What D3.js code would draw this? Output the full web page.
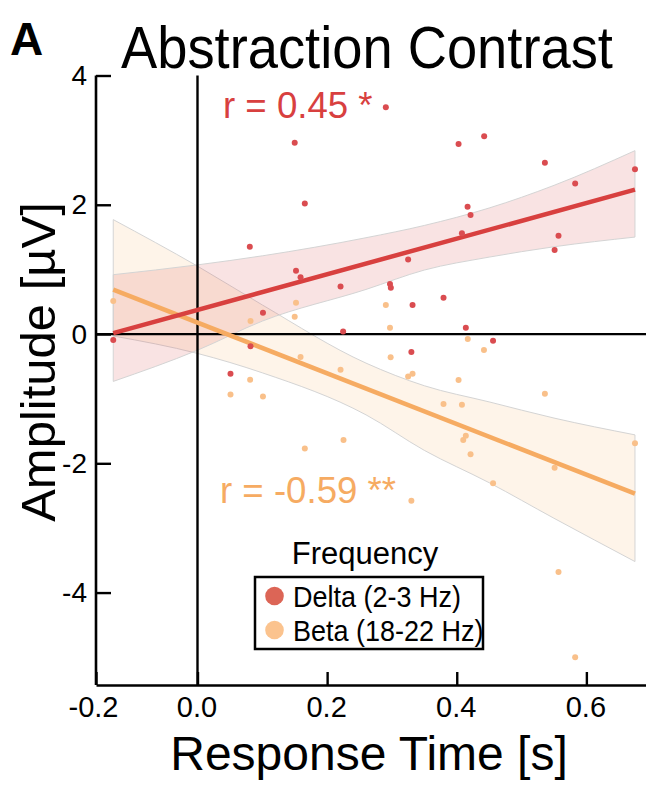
<!DOCTYPE html>
<html><head><meta charset="utf-8">
<script src="https://cdn.jsdelivr.net/npm/d3@7"></script>
<style>
html,body{margin:0;padding:0;background:#fff;}
svg{display:block;}
text{font-family:"Liberation Sans",Arial,Helvetica,sans-serif;}
</style></head>
<body>
<svg id="chart" width="646" height="785"></svg>
<script>
// ---------- data ----------
const deltaX = [-0.130,0.0509,0.0807,0.0818,0.101,0.150,0.152,0.159,0.1656,0.2207,0.2247,0.2906,0.297,0.2983,0.325,0.330,0.3318,0.3796,0.4028,0.408,0.414,0.4167,0.4213,0.4423,0.456,0.536,0.551,0.557,0.5827,0.675];
const deltaY = [-0.093,-0.615,1.35,-0.19,0.33,2.96,0.98,0.88,2.02,0.737,0.04,3.51,0.774,0.717,1.155,-0.279,0.449,0.562,2.94,1.56,0.0975,1.97,1.84,3.06,-0.104,2.65,1.30,1.52,2.33,2.55];
const betaX = [-0.130,0.0509,0.0812,0.0818,0.101,0.150,0.152,0.159,0.1656,0.2207,0.2253,0.2906,0.297,0.298,0.325,0.330,0.3318,0.3796,0.4028,0.408,0.41,0.414,0.417,0.4213,0.442,0.456,0.536,0.551,0.557,0.5827,0.675];
const betaY = [0.51,-0.935,-0.707,0.20,-0.966,0.268,0.484,-0.356,-1.77,-0.553,-1.64,0.449,0.0975,-0.36,-0.656,-2.58,-0.615,-1.084,-0.712,-1.094,-1.64,-1.574,-0.078,-1.858,-0.248,-2.31,-0.924,-2.07,-3.68,-5.0,-1.69];

// fitted regression lines (end points) and confidence bands
const deltaFitX = [-0.130, 0.675];
const deltaFitY = [0.015, 2.234];
const betaFitX = [-0.130, 0.675];
const betaFitY = [0.686, -2.47];

const bandX = [-0.130, 0.0, 0.1, 0.26, 0.35, 0.45, 0.55, 0.675];
const deltaBandHigh = [0.918, 1.07, 1.21, 1.49, 1.68, 1.95, 2.30, 2.837];
const deltaBandLow  = [-0.733, -0.25, 0.20, 0.69, 0.99, 1.19, 1.35, 1.50];
const betaBandHigh  = [1.77, 1.05, 0.45, -0.45, -0.80, -1.05, -1.30, -1.56];
const betaBandLow   = [-0.03, -0.30, -0.60, -1.25, -1.80, -2.30, -2.85, -3.52];

const yTicks = [-4, -2, 0, 2, 4];
const xTicks = [0, 0.2, 0.4, 0.6];
const xFirstLabel = "-0.2";

const seriesNames = ["Delta (2-3 Hz)", "Beta (18-22 Hz)"];
const rLabels = ["r = 0.45 *", "r = -0.59 **"];

// ---------- layout ----------
const svg = d3.select("#chart");
const xMin = -0.1566, xMax = 0.692;
const x = d3.scaleLinear().domain([xMin, xMax]).range([96, 646]);
const y = d3.scaleLinear().domain([-5.43, 4]).range([685, 75.5]);

const C = {
  redLine: "#d8403f", redDot: "#da4c50", redBand: "rgba(222,90,90,0.17)",
  orLine: "#f6ab62", orDot: "#f9c08a", orBand: "rgba(246,178,100,0.14)",
  redLeg: "#dc6556", orLeg: "#fbc38e"
};

// bands
function band(hi, lo, fill) {
  const pts = bandX.map((d, i) => ({x: d, hi: hi[i], lo: lo[i]}));
  const area = d3.area().x(d => x(d.x)).y0(d => y(d.lo)).y1(d => y(d.hi)).curve(d3.curveMonotoneX);
  svg.append("path").datum(pts).attr("d", area).attr("fill", fill)
     .attr("stroke", "#d4d4d4").attr("stroke-width", 1);
}
band(betaBandHigh, betaBandLow, C.orBand);
band(deltaBandHigh, deltaBandLow, C.redBand);

// zero reference lines
svg.append("line").attr("x1", x(xMin)).attr("x2", x(xMax)).attr("y1", y(0)).attr("y2", y(0))
   .attr("stroke", "#000").attr("stroke-width", 2.2);
svg.append("line").attr("x1", x(0)).attr("x2", x(0)).attr("y1", y(4)).attr("y2", y(-5.43))
   .attr("stroke", "#000").attr("stroke-width", 2.4);

// fit lines
const line = d3.line().x(d => x(d[0])).y(d => y(d[1]));
svg.append("path").datum(betaFitX.map((d, i) => [d, betaFitY[i]])).attr("d", line)
   .attr("stroke", C.orLine).attr("stroke-width", 4.5).attr("fill", "none");
svg.append("path").datum(deltaFitX.map((d, i) => [d, deltaFitY[i]])).attr("d", line)
   .attr("stroke", C.redLine).attr("stroke-width", 4.5).attr("fill", "none");

// points
svg.append("g").selectAll("circle").data(betaX.map((d, i) => [d, betaY[i]])).join("circle")
   .attr("cx", d => x(d[0])).attr("cy", d => y(d[1])).attr("r", 3).attr("fill", C.orDot);
svg.append("g").selectAll("circle").data(deltaX.map((d, i) => [d, deltaY[i]])).join("circle")
   .attr("cx", d => x(d[0])).attr("cy", d => y(d[1])).attr("r", 3).attr("fill", C.redDot);

// axes
const yAxis = d3.axisLeft(y).tickValues(yTicks).tickSizeInner(-15).tickSizeOuter(0)
  .tickPadding(9).tickFormat(d => String(d));
const gy = svg.append("g").attr("transform", `translate(${x(xMin)},0)`).call(yAxis);
gy.select(".domain").attr("stroke-width", 2.6).attr("d", `M0,${y(4)}V${y(-5.43)}`);
gy.selectAll(".tick line").attr("stroke-width", 2.4);
gy.selectAll(".tick text").attr("font-size", 28).attr("fill", "#000")
  .attr("font-family", "'Liberation Sans', Arial, sans-serif");

const xAxis = d3.axisBottom(x).tickValues([xMin].concat(xTicks)).tickSizeInner(-13).tickSizeOuter(0)
  .tickPadding(11).tickFormat(d => d === xMin ? xFirstLabel : d3.format(".1f")(d));
const gx = svg.append("g").attr("transform", `translate(0,${y(-5.43)})`).call(xAxis);
gx.select(".domain").attr("stroke-width", 2.6);
gx.selectAll(".tick line").attr("stroke-width", 2.4);
gx.selectAll(".tick text").attr("font-size", 29).attr("fill", "#000")
  .attr("font-family", "'Liberation Sans', Arial, sans-serif")
  .attr("dx", d => d === xMin ? -3 : -1);

// titles
svg.append("text").attr("x", 10).attr("y", 55).text("A")
   .attr("font-size", 46).attr("font-weight", "bold");
svg.append("text").attr("transform", "translate(121,68) scale(0.905,1)").text("Abstraction Contrast")
   .attr("font-size", 60);
svg.append("text").attr("x", 369).attr("y", 770).attr("text-anchor", "middle")
   .text("Response Time [s]").attr("font-size", 48);
svg.append("text").attr("transform", "translate(55,362) rotate(-90)").attr("text-anchor", "middle")
   .text("Amplitude [µV]").attr("font-size", 49);

// r labels
svg.append("text").attr("transform", "translate(223,118) scale(0.99,1)").text(rLabels[0])
   .attr("font-size", 37).attr("fill", C.redLine);
svg.append("text").attr("transform", "translate(220,503) scale(0.99,1)").text(rLabels[1])
   .attr("font-size", 37).attr("fill", C.orLine);

// legend
svg.append("text").attr("x", 365).attr("y", 564).attr("text-anchor", "middle").text("Frequency")
   .attr("font-size", 31);
svg.append("rect").attr("x", 255).attr("y", 577).attr("width", 228).attr("height", 72)
   .attr("fill", "#fff").attr("stroke", "#000").attr("stroke-width", 2.5);
const legCols = [C.redLeg, C.orLeg];
const legY = [596, 630];
seriesNames.forEach((s, i) => {
  svg.append("circle").attr("cx", 274.5).attr("cy", legY[i]).attr("r", 9.3).attr("fill", legCols[i]);
  svg.append("text").attr("transform", `translate(293,${legY[i] + 11}) scale(0.9,1)`).text(s)
     .attr("font-size", 30);
});
</script>
</body></html>
